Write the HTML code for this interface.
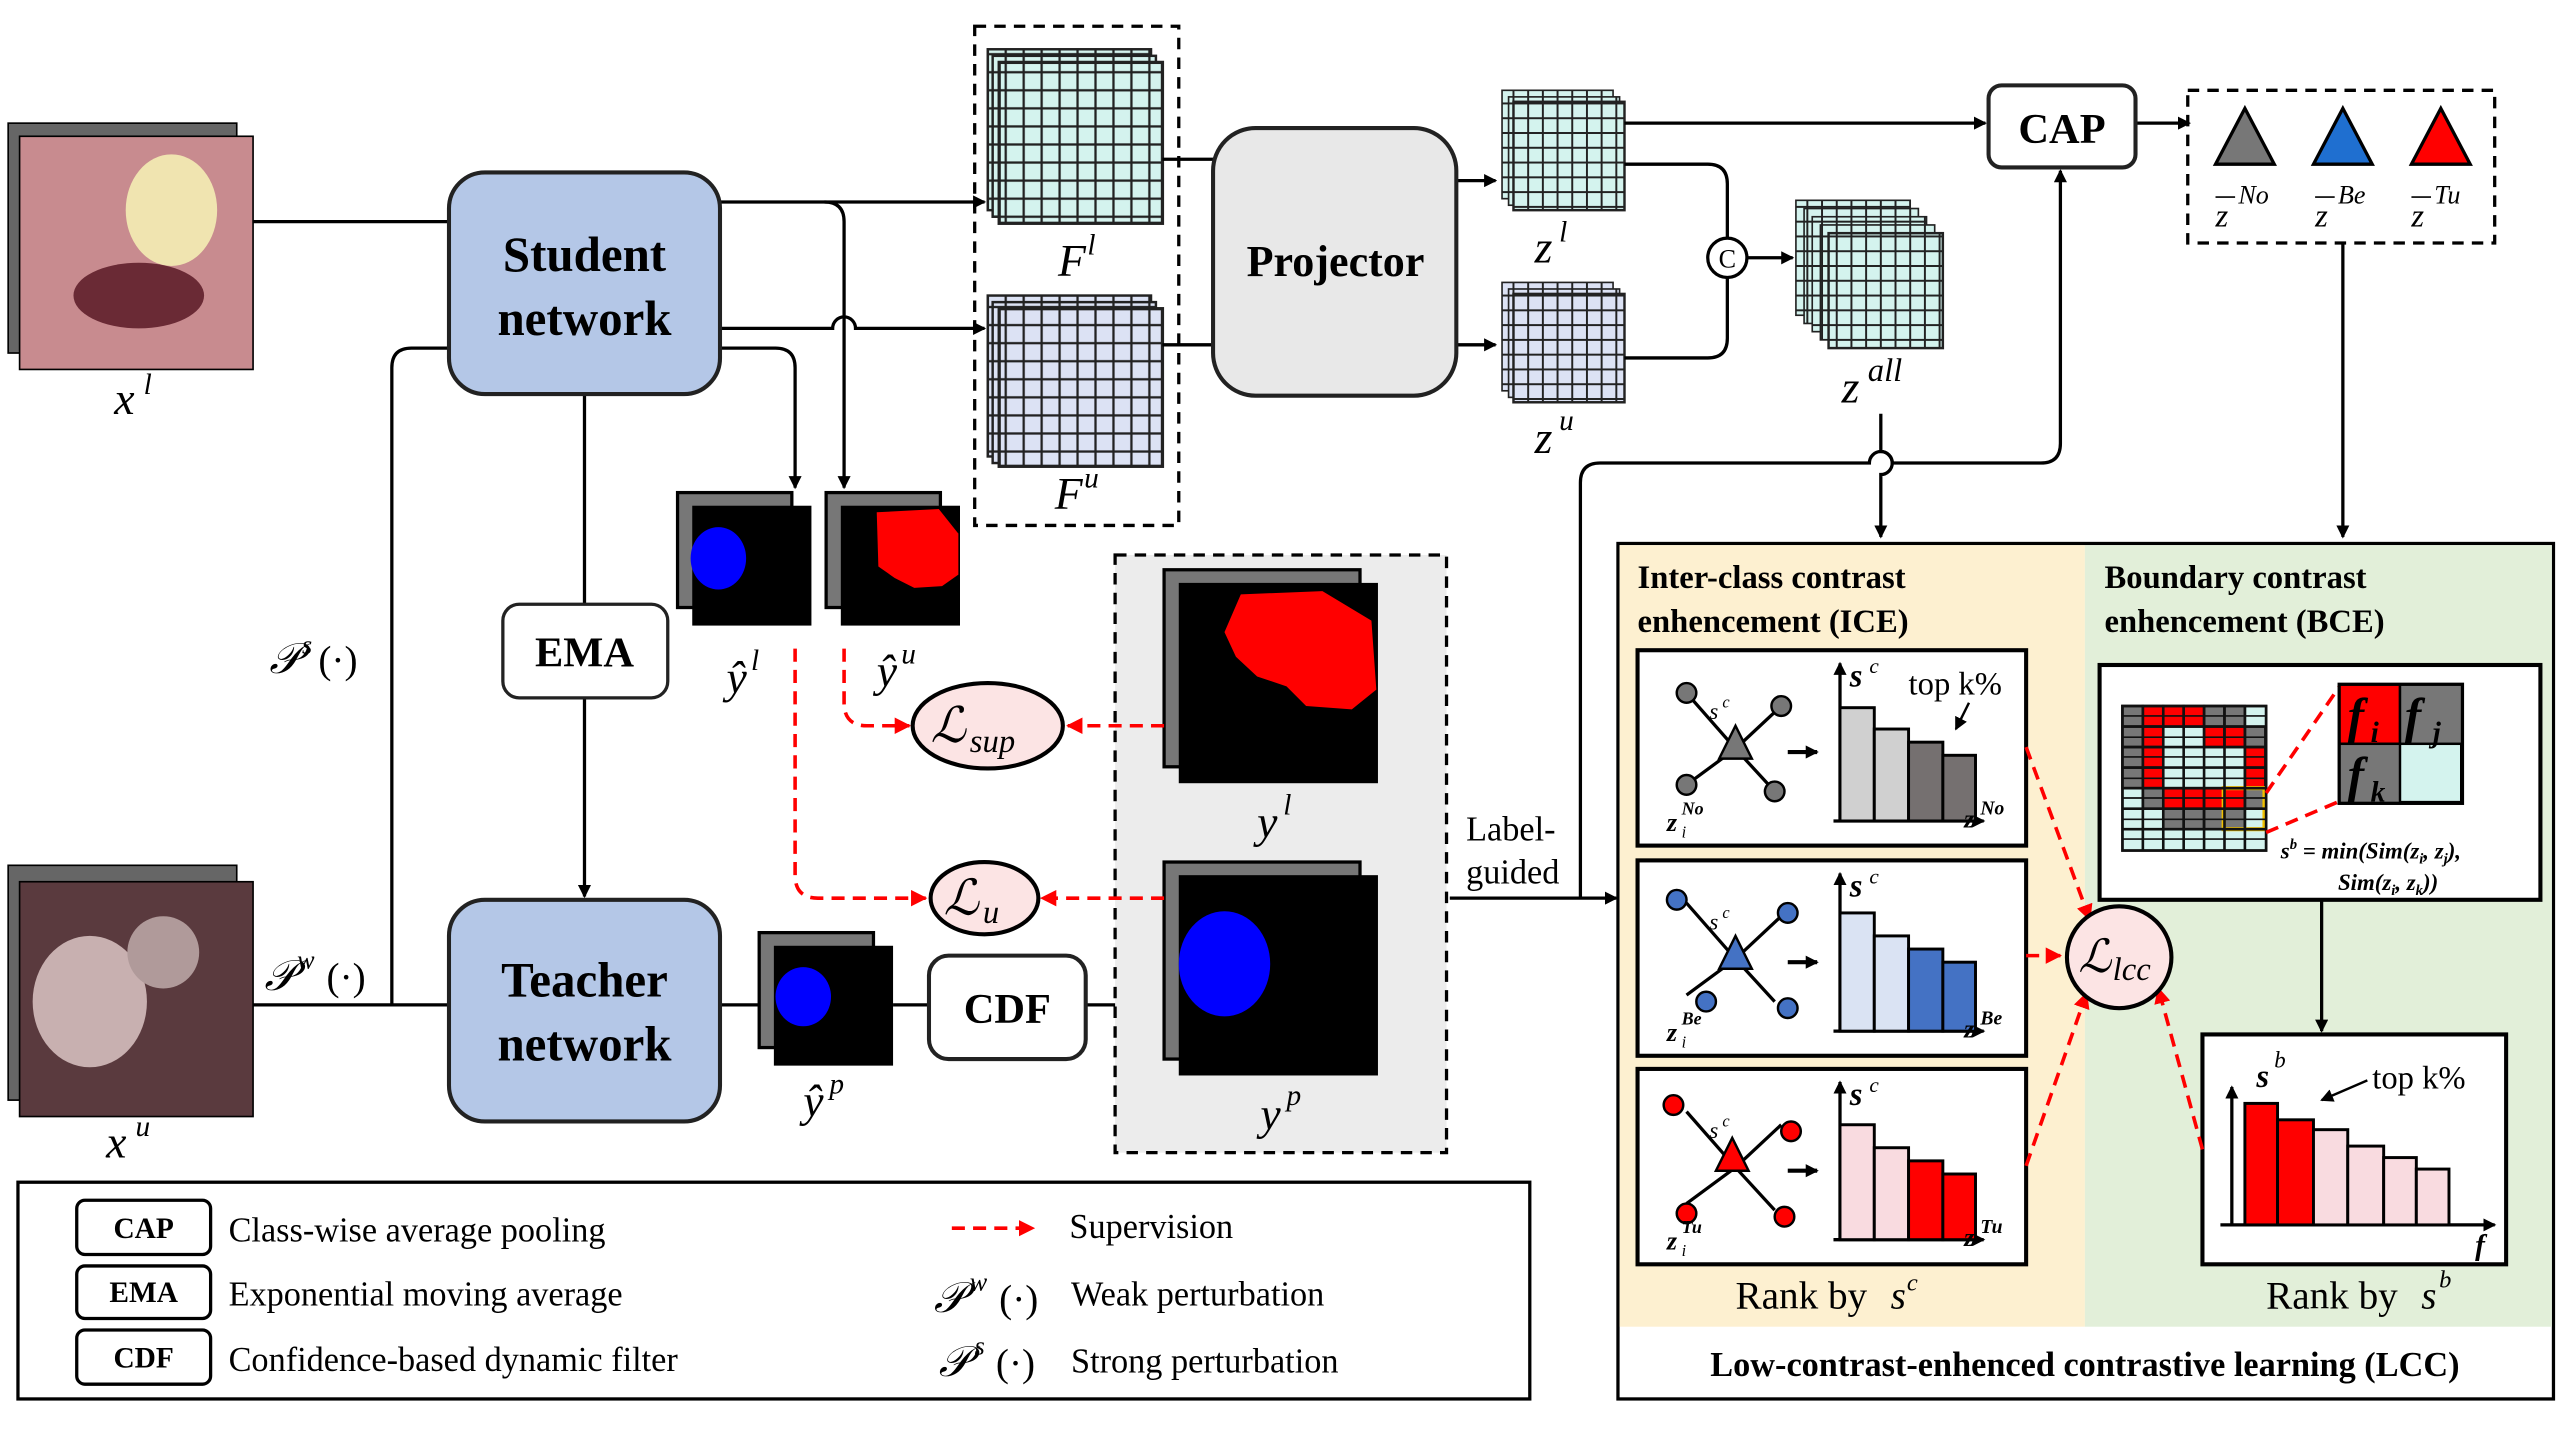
<!DOCTYPE html>
<html><head><meta charset="utf-8"><style>
html,body{margin:0;padding:0;background:#fff;}
svg{display:block;}
text{font-family:"Liberation Serif",serif;}
</style></head><body>
<svg width="2560" height="1440" viewBox="0 0 1568 877" preserveAspectRatio="none" xmlns="http://www.w3.org/2000/svg">
<defs>
<marker id="ar" markerWidth="8" markerHeight="8" refX="7" refY="4" orient="auto" markerUnits="userSpaceOnUse"><path d="M0,0 L8,4 L0,8 z" fill="#000"/></marker>
<marker id="rr" markerWidth="10" markerHeight="10" refX="9" refY="5" orient="auto" markerUnits="userSpaceOnUse"><path d="M0,0 L10,5 L0,10 z" fill="#f00"/></marker>
<pattern id="gc" width="11" height="11" patternUnits="userSpaceOnUse"><rect width="11" height="11" fill="#d4f3ee" stroke="#222" stroke-width="1.4"/></pattern>
<pattern id="gb" width="11" height="11" patternUnits="userSpaceOnUse"><rect width="11" height="11" fill="#dce2f4" stroke="#222" stroke-width="1.4"/></pattern>
<pattern id="zc" width="9" height="9" patternUnits="userSpaceOnUse"><rect width="9" height="9" fill="#d4f3ee" stroke="#222" stroke-width="1.2"/></pattern>
<pattern id="zb" width="9" height="9" patternUnits="userSpaceOnUse"><rect width="9" height="9" fill="#dce2f4" stroke="#222" stroke-width="1.2"/></pattern>
<g id="panel">
<rect x="0" y="0" width="238" height="119" fill="#fff" stroke="#000" stroke-width="2.5"/>
<line x1="30" y1="26" x2="60" y2="60" stroke="#000" stroke-width="2"/>
<line x1="88" y1="34" x2="60" y2="60" stroke="#000" stroke-width="2"/>
<line x1="30" y1="82" x2="60" y2="60" stroke="#000" stroke-width="2"/>
<line x1="84" y1="86" x2="60" y2="60" stroke="#000" stroke-width="2"/>
<text x="44" y="42" font-size="14" font-style="italic">s</text><text x="52" y="35" font-size="10" font-style="italic">c</text>
<line x1="92" y1="62" x2="110" y2="62" stroke="#000" stroke-width="2.5" marker-end="url(#ar)"/>
<line x1="124" y1="104" x2="124" y2="8" stroke="#000" stroke-width="2" marker-end="url(#ar)"/>
<line x1="120" y1="104" x2="212" y2="104" stroke="#000" stroke-width="2" marker-end="url(#ar)"/>
<text x="130" y="22" font-size="20" font-style="italic" font-weight="bold">s</text><text x="142" y="14" font-size="13" font-style="italic">c</text>
</g>
</defs>

<!-- input images -->
<rect x="5" y="75" width="140" height="140" fill="#666" stroke="#000"/>
<rect x="12" y="83" width="143" height="142" fill="#c88b8f" stroke="#000"/>
<ellipse cx="105" cy="128" rx="28" ry="34" fill="#f0e4b0"/>
<ellipse cx="85" cy="180" rx="40" ry="20" fill="#6a2a35"/>
<text x="70" y="252" font-size="28" font-style="italic">x</text><text x="88" y="240" font-size="18" font-style="italic">l</text>
<rect x="5" y="527" width="140" height="143" fill="#666" stroke="#000"/>
<rect x="12" y="537" width="143" height="143" fill="#5a3a3e" stroke="#000"/>
<ellipse cx="55" cy="610" rx="35" ry="40" fill="#c8b0b0"/>
<ellipse cx="100" cy="580" rx="22" ry="22" fill="#b09a9a"/>
<text x="65" y="705" font-size="28" font-style="italic">x</text><text x="83" y="692" font-size="18" font-style="italic">u</text>

<!-- connectors left -->
<g stroke="#000" stroke-width="2" fill="none">
<line x1="155" y1="135" x2="275" y2="135"/>
<line x1="155" y1="612" x2="275" y2="612"/>
<path d="M275,212 L252,212 Q240,212 240,224 L240,612"/>
<line x1="358" y1="240" x2="358" y2="368"/>
<line x1="358" y1="425" x2="358" y2="546" marker-end="url(#ar)"/>
<line x1="441" y1="123" x2="603" y2="123" marker-end="url(#ar)"/>
<path d="M441,200 L510,200 A7,7 0 0 1 524,200 L603,200" marker-end="url(#ar)"/>
<path d="M505,123 Q517,123 517,135 L517,297" marker-end="url(#ar)"/>
<path d="M441,212 L475,212 Q487,212 487,224 L487,297" marker-end="url(#ar)"/>
<line x1="441" y1="612" x2="465" y2="612"/>
<line x1="547" y1="612" x2="569" y2="612"/>
<line x1="665" y1="612" x2="711" y2="612" marker-end="url(#ar)"/>
</g>
<text x="165" y="410" font-size="26" font-style="italic">𝒫</text><text x="185" y="398" font-size="16" font-style="italic">s</text><text x="195" y="410" font-size="24">(·)</text>
<text x="162" y="603" font-size="26" font-style="italic">𝒫</text><text x="182" y="590" font-size="16" font-style="italic">w</text><text x="200" y="603" font-size="24">(·)</text>

<!-- network boxes -->
<rect x="275" y="105" width="166" height="135" rx="22" fill="#b4c7e7" stroke="#222" stroke-width="2.5"/>
<text x="358" y="165" font-size="30" font-weight="bold" text-anchor="middle">Student</text>
<text x="358" y="204" font-size="30" font-weight="bold" text-anchor="middle">network</text>
<rect x="275" y="548" width="166" height="135" rx="22" fill="#b4c7e7" stroke="#222" stroke-width="2.5"/>
<text x="358" y="607" font-size="30" font-weight="bold" text-anchor="middle">Teacher</text>
<text x="358" y="646" font-size="30" font-weight="bold" text-anchor="middle">network</text>
<rect x="308" y="368" width="101" height="57" rx="10" fill="#fff" stroke="#222" stroke-width="2"/>
<text x="358" y="406" font-size="26" font-weight="bold" text-anchor="middle">EMA</text>

<!-- F stacks -->
<rect x="597" y="16" width="125" height="304" fill="none" stroke="#000" stroke-width="2" stroke-dasharray="7,5"/>
<rect x="605" y="30" width="100" height="98" fill="url(#gc)" stroke="#222" stroke-width="1.5"/>
<rect x="608" y="34" width="100" height="98" fill="url(#gc)" stroke="#222" stroke-width="1.5"/>
<rect x="612" y="38" width="100" height="98" fill="url(#gc)" stroke="#222" stroke-width="2"/>
<text x="648" y="168" font-size="28" font-style="italic">F</text><text x="666" y="155" font-size="18" font-style="italic">l</text>
<rect x="605" y="180" width="100" height="98" fill="url(#gb)" stroke="#222" stroke-width="1.5"/>
<rect x="608" y="184" width="100" height="98" fill="url(#gb)" stroke="#222" stroke-width="1.5"/>
<rect x="612" y="188" width="100" height="96" fill="url(#gb)" stroke="#222" stroke-width="2"/>
<text x="646" y="310" font-size="28" font-style="italic">F</text><text x="664" y="297" font-size="18" font-style="italic">u</text>

<!-- projector -->
<g stroke="#000" stroke-width="2" fill="none">
<line x1="712" y1="97" x2="743" y2="97"/>
<line x1="712" y1="210" x2="743" y2="210"/>
<line x1="892" y1="110" x2="916" y2="110" marker-end="url(#ar)"/>
<line x1="892" y1="210" x2="916" y2="210" marker-end="url(#ar)"/>
</g>
<rect x="743" y="78" width="149" height="163" rx="26" fill="#e8e8e8" stroke="#222" stroke-width="2.5"/>
<text x="818" y="168" font-size="27" font-weight="bold" text-anchor="middle">Projector</text>

<!-- z grids -->
<rect x="920" y="55" width="68" height="66" fill="url(#zc)" stroke="#222"/>
<rect x="924" y="59" width="68" height="66" fill="url(#zc)" stroke="#222"/>
<rect x="927" y="62" width="68" height="66" fill="url(#zc)" stroke="#222" stroke-width="1.5"/>
<text x="940" y="160" font-size="28" font-style="italic">z</text><text x="955" y="147" font-size="18" font-style="italic">l</text>
<rect x="920" y="172" width="68" height="66" fill="url(#zb)" stroke="#222"/>
<rect x="924" y="176" width="68" height="66" fill="url(#zb)" stroke="#222"/>
<rect x="927" y="179" width="68" height="66" fill="url(#zb)" stroke="#222" stroke-width="1.5"/>
<text x="940" y="276" font-size="28" font-style="italic">z</text><text x="955" y="262" font-size="18" font-style="italic">u</text>
<g stroke="#000" stroke-width="2" fill="none">
<path d="M995,100 L1046,100 Q1058,100 1058,112 L1058,145"/>
<path d="M995,218 L1046,218 Q1058,218 1058,206 L1058,169"/>
<line x1="1070" y1="157" x2="1098" y2="157" marker-end="url(#ar)"/>
<line x1="995" y1="75" x2="1216" y2="75" marker-end="url(#ar)"/>
<line x1="1308" y1="75" x2="1341" y2="75" marker-end="url(#ar)"/>
<line x1="1435" y1="148" x2="1435" y2="327" marker-end="url(#ar)"/>
<path d="M1152,252 L1152,275 A7,7 0 0 1 1152,289 L1152,327" marker-end="url(#ar)"/>
<path d="M888,547 L990,547" marker-end="url(#ar)"/>
<path d="M968,547 L968,294 Q968,282 980,282 L1145,282 A7,7 0 0 1 1159,282 L1250,282 Q1262,282 1262,270 L1262,104" marker-end="url(#ar)"/>
</g>
<circle cx="1058" cy="157" r="12" fill="#fff" stroke="#000" stroke-width="2"/>
<text x="1058" y="163" font-size="16" text-anchor="middle" font-family="Liberation Sans">C</text>
<rect x="1100" y="122" width="70" height="70" fill="url(#zc)" stroke="#222"/>
<rect x="1105" y="127" width="70" height="70" fill="url(#zc)" stroke="#222"/>
<rect x="1110" y="132" width="70" height="70" fill="url(#zc)" stroke="#222"/>
<rect x="1115" y="137" width="70" height="70" fill="url(#zc)" stroke="#222"/>
<rect x="1120" y="142" width="70" height="70" fill="url(#zc)" stroke="#222" stroke-width="1.5"/>
<text x="1128" y="245" font-size="28" font-style="italic">z</text><text x="1144" y="232" font-size="20" font-style="italic">all</text>
<text x="898" y="512" font-size="21">Label-</text>
<text x="898" y="538" font-size="21">guided</text>

<!-- CAP -->
<rect x="1218" y="52" width="90" height="50" rx="8" fill="#fff" stroke="#222" stroke-width="2.5"/>
<text x="1263" y="87" font-size="26" font-weight="bold" text-anchor="middle">CAP</text>
<rect x="1340" y="55" width="188" height="93" fill="none" stroke="#000" stroke-width="2" stroke-dasharray="7,5"/>
<polygon points="1375,66 1393,100 1357,100" fill="#777" stroke="#000" stroke-width="2"/>
<polygon points="1435,66 1453,100 1417,100" fill="#1f6fd0" stroke="#000" stroke-width="2"/>
<polygon points="1495,66 1513,100 1477,100" fill="#f00" stroke="#000" stroke-width="2"/>
<text x="1357" y="138" font-size="20" font-style="italic">z</text><text x="1371" y="124" font-size="16" font-style="italic">No</text><line x1="1357" y1="120" x2="1369" y2="120" stroke="#000"/>
<text x="1418" y="138" font-size="20" font-style="italic">z</text><text x="1432" y="124" font-size="16" font-style="italic">Be</text><line x1="1418" y1="120" x2="1430" y2="120" stroke="#000"/>
<text x="1477" y="138" font-size="20" font-style="italic">z</text><text x="1491" y="124" font-size="16" font-style="italic">Tu</text><line x1="1477" y1="120" x2="1489" y2="120" stroke="#000"/>

<!-- masks -->
<rect x="415" y="300" width="70" height="70" fill="#777" stroke="#000" stroke-width="2"/>
<rect x="424" y="308" width="73" height="73" fill="#000"/>
<ellipse cx="440" cy="340" rx="17" ry="19" fill="#00f"/>
<rect x="506" y="300" width="70" height="70" fill="#777" stroke="#000" stroke-width="2"/>
<rect x="515" y="308" width="73" height="73" fill="#000"/>
<path d="M537,312 L575,310 L587,325 L587,350 L577,357 L560,358 L548,352 L538,345 Z" fill="#f00"/>
<text x="445" y="422" font-size="28" font-style="italic">ŷ</text><text x="460" y="408" font-size="18" font-style="italic">l</text>
<text x="537" y="418" font-size="28" font-style="italic">ŷ</text><text x="552" y="404" font-size="18" font-style="italic">u</text>
<rect x="465" y="568" width="70" height="70" fill="#777" stroke="#000" stroke-width="2"/>
<rect x="474" y="576" width="73" height="73" fill="#000"/>
<ellipse cx="492" cy="607" rx="17" ry="18" fill="#00f"/>
<text x="492" y="680" font-size="28" font-style="italic">ŷ</text><text x="508" y="666" font-size="18" font-style="italic">p</text>
<rect x="569" y="582" width="96" height="63" rx="12" fill="#fff" stroke="#222" stroke-width="2.5"/>
<text x="617" y="623" font-size="26" font-weight="bold" text-anchor="middle">CDF</text>

<rect x="683" y="338" width="203" height="364" fill="#ececec" stroke="#000" stroke-width="2" stroke-dasharray="7,5"/>
<rect x="713" y="347" width="120" height="120" fill="#777" stroke="#000" stroke-width="2"/>
<rect x="722" y="355" width="122" height="122" fill="#000"/>
<path d="M760,362 L810,360 L840,378 L843,420 L828,432 L800,430 L788,418 L770,412 L757,400 L750,385 Z" fill="#f00"/>
<text x="770" y="510" font-size="28" font-style="italic">y</text><text x="786" y="496" font-size="18" font-style="italic">l</text>
<rect x="713" y="525" width="120" height="120" fill="#777" stroke="#000" stroke-width="2"/>
<rect x="722" y="533" width="122" height="122" fill="#000"/>
<ellipse cx="750" cy="587" rx="28" ry="32" fill="#00f"/>
<text x="772" y="688" font-size="28" font-style="italic">y</text><text x="788" y="673" font-size="18" font-style="italic">p</text>

<!-- losses -->
<g stroke="#f00" stroke-width="2.2" fill="none" stroke-dasharray="8,5">
<path d="M517,395 L517,428 Q517,442 531,442 L557,442" marker-end="url(#rr)"/>
<path d="M713,442 L654,442" marker-end="url(#rr)"/>
<path d="M487,395 L487,533 Q487,547 501,547 L567,547" marker-end="url(#rr)"/>
<path d="M713,547 L638,547" marker-end="url(#rr)"/>
</g>
<ellipse cx="605" cy="442" rx="46" ry="26" fill="#fce4e4" stroke="#000" stroke-width="2.5"/>
<text x="570" y="452" font-size="30" font-style="italic">ℒ</text><text x="594" y="458" font-size="20" font-style="italic">sup</text>
<ellipse cx="603" cy="547" rx="33" ry="22" fill="#fce4e4" stroke="#000" stroke-width="2.5"/>
<text x="578" y="557" font-size="30" font-style="italic">ℒ</text><text x="602" y="562" font-size="20" font-style="italic">u</text>

<!-- legend -->
<rect x="11" y="720" width="926" height="132" fill="#fff" stroke="#000" stroke-width="2"/>
<rect x="47" y="731" width="82" height="33" rx="5" fill="#fff" stroke="#000" stroke-width="2"/>
<text x="88" y="754" font-size="18" font-weight="bold" text-anchor="middle">CAP</text>
<text x="140" y="756" font-size="21">Class-wise average pooling</text>
<rect x="47" y="771" width="82" height="32" rx="5" fill="#fff" stroke="#000" stroke-width="2"/>
<text x="88" y="793" font-size="18" font-weight="bold" text-anchor="middle">EMA</text>
<text x="140" y="795" font-size="21">Exponential moving average</text>
<rect x="47" y="810" width="82" height="33" rx="5" fill="#fff" stroke="#000" stroke-width="2"/>
<text x="88" y="833" font-size="18" font-weight="bold" text-anchor="middle">CDF</text>
<text x="140" y="835" font-size="21">Confidence-based dynamic filter</text>
<line x1="583" y1="748" x2="633" y2="748" stroke="#f00" stroke-width="2.2" stroke-dasharray="8,5" marker-end="url(#rr)"/>
<text x="655" y="754" font-size="21">Supervision</text>
<text x="572" y="799" font-size="26" font-style="italic">𝒫</text><text x="594" y="786" font-size="16" font-style="italic">w</text><text x="612" y="799" font-size="24">(·)</text>
<text x="656" y="795" font-size="21">Weak perturbation</text>
<text x="575" y="838" font-size="26" font-style="italic">𝒫</text><text x="597" y="825" font-size="16" font-style="italic">s</text><text x="610" y="838" font-size="24">(·)</text>
<text x="656" y="836" font-size="21">Strong perturbation</text>

<!-- LCC -->
<rect x="991" y="331" width="573" height="521" fill="#fff" stroke="#000" stroke-width="2"/>
<rect x="992" y="332" width="285" height="476" fill="#fdf0d0"/>
<rect x="1277" y="332" width="286" height="476" fill="#e2efd9"/>
<text x="1277" y="838" font-size="21" font-weight="bold" text-anchor="middle">Low-contrast-enhenced contrastive learning (LCC)</text>
<text x="1003" y="358" font-size="20" font-weight="bold">Inter-class contrast</text>
<text x="1003" y="385" font-size="20" font-weight="bold">enhencement (ICE)</text>
<text x="1289" y="358" font-size="20" font-weight="bold">Boundary contrast</text>
<text x="1289" y="385" font-size="20" font-weight="bold">enhencement (BCE)</text>

<!-- panel 1 -->
<g transform="translate(1003,396)">
<use href="#panel"/>
<polygon points="60,46 70,66 50,66" fill="#777" stroke="#000" stroke-width="1.5"/>
<g fill="#777" stroke="#000" stroke-width="1.5"><circle cx="30" cy="26" r="6"/><circle cx="88" cy="34" r="6"/><circle cx="30" cy="82" r="6"/><circle cx="84" cy="86" r="6"/></g>
<g stroke="#000" stroke-width="1.8"><rect x="124" y="35" width="21" height="69" fill="#d0d0d0"/><rect x="145" y="48" width="21" height="56" fill="#d0d0d0"/><rect x="166" y="56" width="21" height="48" fill="#757070"/><rect x="187" y="64" width="20" height="40" fill="#757070"/></g>
<text x="166" y="27" font-size="20">top k%</text>
<line x1="203" y1="32" x2="195" y2="48" stroke="#000" stroke-width="1.5" marker-end="url(#ar)"/>
<text x="18" y="110" font-size="16" font-weight="bold" font-style="italic">z</text><text x="27" y="100" font-size="11" font-weight="bold" font-style="italic">No</text><text x="27" y="114" font-size="10" font-style="italic">i</text>
<text x="200" y="108" font-size="16" font-weight="bold" font-style="italic">z</text><text x="210" y="100" font-size="12" font-weight="bold" font-style="italic">No</text>
</g>
<!-- panel 2 -->
<g transform="translate(1003,524)">
<use href="#panel"/>
<polygon points="60,46 70,66 50,66" fill="#4472c4" stroke="#000" stroke-width="1.5"/>
<g fill="#4472c4" stroke="#000" stroke-width="1.5"><circle cx="24" cy="24" r="6"/><circle cx="92" cy="32" r="6"/><circle cx="42" cy="86" r="6"/><circle cx="92" cy="90" r="6"/></g>
<g stroke="#000" stroke-width="1.8"><rect x="124" y="32" width="21" height="72" fill="#dae3f3"/><rect x="145" y="46" width="21" height="58" fill="#dae3f3"/><rect x="166" y="54" width="21" height="50" fill="#4472c4"/><rect x="187" y="62" width="20" height="42" fill="#4472c4"/></g>
<text x="18" y="110" font-size="16" font-weight="bold" font-style="italic">z</text><text x="27" y="100" font-size="11" font-weight="bold" font-style="italic">Be</text><text x="27" y="114" font-size="10" font-style="italic">i</text>
<text x="200" y="108" font-size="16" font-weight="bold" font-style="italic">z</text><text x="210" y="100" font-size="12" font-weight="bold" font-style="italic">Be</text>
</g>
<!-- panel 3 -->
<g transform="translate(1003,651)">
<use href="#panel"/>
<polygon points="58,42 68,62 48,62" fill="#f00" stroke="#000" stroke-width="1.5"/>
<g fill="#f00" stroke="#000" stroke-width="1.5"><circle cx="22" cy="22" r="6"/><circle cx="94" cy="38" r="6"/><circle cx="30" cy="88" r="6"/><circle cx="90" cy="90" r="6"/></g>
<g stroke="#000" stroke-width="1.8"><rect x="124" y="34" width="21" height="70" fill="#f9dbe0"/><rect x="145" y="48" width="21" height="56" fill="#f9dbe0"/><rect x="166" y="56" width="21" height="48" fill="#f00"/><rect x="187" y="64" width="20" height="40" fill="#f00"/></g>
<text x="18" y="110" font-size="16" font-weight="bold" font-style="italic">z</text><text x="27" y="100" font-size="11" font-weight="bold" font-style="italic">Tu</text><text x="27" y="114" font-size="10" font-style="italic">i</text>
<text x="200" y="108" font-size="16" font-weight="bold" font-style="italic">z</text><text x="210" y="100" font-size="12" font-weight="bold" font-style="italic">Tu</text>
</g>
<text x="1063" y="797" font-size="24">Rank by </text><text x="1158" y="797" font-size="24" font-style="italic">s</text><text x="1168" y="786" font-size="15" font-style="italic">c</text>

<!-- BCE -->
<rect x="1286" y="405" width="270" height="143" fill="#fff" stroke="#000" stroke-width="2.5"/>
<g stroke="#111" stroke-width="1.5">
<!-- 7x7 grid, cell 12.5 -->
<rect x="1300" y="430" width="88" height="88" fill="#d4f3ee"/>
<g fill="#777">
<rect x="1300" y="430" width="12.5" height="12.5"/><rect x="1350" y="430" width="12.5" height="12.5"/><rect x="1362.5" y="430" width="12.5" height="12.5"/>
<rect x="1300" y="442.5" width="12.5" height="12.5"/><rect x="1375" y="442.5" width="12.5" height="12.5"/>
<rect x="1300" y="455" width="12.5" height="12.5"/><rect x="1300" y="467.5" width="12.5" height="12.5"/>
<rect x="1312.5" y="480" width="12.5" height="12.5"/><rect x="1375" y="480" width="12.5" height="12.5"/>
<rect x="1325" y="492.5" width="12.5" height="12.5"/><rect x="1337.5" y="492.5" width="12.5" height="12.5"/><rect x="1350" y="492.5" width="12.5" height="12.5"/><rect x="1362.5" y="492.5" width="12.5" height="12.5"/>
</g>
<g fill="#f00">
<rect x="1312.5" y="430" width="12.5" height="12.5"/><rect x="1325" y="430" width="12.5" height="12.5"/><rect x="1337.5" y="430" width="12.5" height="12.5"/>
<rect x="1312.5" y="442.5" width="12.5" height="12.5"/><rect x="1350" y="442.5" width="12.5" height="12.5"/><rect x="1362.5" y="442.5" width="12.5" height="12.5"/>
<rect x="1312.5" y="455" width="12.5" height="12.5"/><rect x="1375" y="455" width="12.5" height="12.5"/>
<rect x="1312.5" y="467.5" width="12.5" height="12.5"/><rect x="1375" y="467.5" width="12.5" height="12.5"/>
<rect x="1325" y="480" width="12.5" height="12.5"/><rect x="1337.5" y="480" width="12.5" height="12.5"/><rect x="1350" y="480" width="12.5" height="12.5"/><rect x="1362.5" y="480" width="12.5" height="12.5"/>
</g>
</g>
<rect x="1362" y="480" width="25" height="25" fill="none" stroke="#f0c000" stroke-width="2.5"/>
<g stroke="#111" stroke-width="1"><path d="M1300,436h88M1300,449h88M1300,461h88M1300,474h88M1300,486h88M1300,499h88M1300,511h88"/></g>
<g stroke="#111" stroke-width="1.6" fill="none">
<rect x="1300" y="430" width="88" height="88"/>
<path d="M1312.5,430v88M1325,430v88M1337.5,430v88M1350,430v88M1362.5,430v88M1375,430v88M1300,442.5h88M1300,455h88M1300,467.5h88M1300,480h88M1300,492.5h88M1300,505h88"/>
</g>
<g stroke="#f00" stroke-width="2.2" stroke-dasharray="8,5" fill="none">
<line x1="1388" y1="483" x2="1433" y2="418"/>
<line x1="1388" y1="507" x2="1433" y2="488"/>
</g>
<rect x="1433" y="417" width="75" height="72" fill="#d4f3ee" stroke="#000" stroke-width="2.5"/>
<rect x="1433" y="417" width="37" height="36" fill="#f00" stroke="#000" stroke-width="1.5"/>
<rect x="1470" y="417" width="38" height="36" fill="#777" stroke="#000" stroke-width="1.5"/>
<rect x="1433" y="453" width="37" height="36" fill="#777" stroke="#000" stroke-width="1.5"/>
<text x="1438" y="446" font-size="30" font-style="italic" font-weight="bold">f</text><text x="1452" y="452" font-size="18" font-style="italic" font-weight="bold">i</text>
<text x="1473" y="446" font-size="30" font-style="italic" font-weight="bold">f</text><text x="1490" y="452" font-size="18" font-style="italic" font-weight="bold">j</text>
<text x="1438" y="482" font-size="30" font-style="italic" font-weight="bold">f</text><text x="1452" y="488" font-size="18" font-style="italic" font-weight="bold">k</text>
<text x="1397" y="523" font-size="14" font-style="italic" font-weight="bold">s<tspan dy="-6" font-size="9">b</tspan><tspan dy="6"> = min(Sim(z</tspan><tspan dy="3" font-size="9">i</tspan><tspan dy="-3">, z</tspan><tspan dy="3" font-size="9">j</tspan><tspan dy="-3">),</tspan></text>
<text x="1432" y="542" font-size="14" font-style="italic" font-weight="bold">Sim(z<tspan dy="3" font-size="9">i</tspan><tspan dy="-3">, z</tspan><tspan dy="3" font-size="9">k</tspan><tspan dy="-3">))</tspan></text>
<line x1="1422" y1="548" x2="1422" y2="628" stroke="#000" stroke-width="2" marker-end="url(#ar)"/>
<rect x="1349" y="630" width="186" height="140" fill="#fff" stroke="#000" stroke-width="2.5"/>
<line x1="1367" y1="746" x2="1367" y2="662" stroke="#000" stroke-width="2" marker-end="url(#ar)"/>
<line x1="1360" y1="746" x2="1528" y2="746" stroke="#000" stroke-width="2" marker-end="url(#ar)"/>
<g stroke="#000" stroke-width="1.8">
<rect x="1375" y="672" width="20" height="74" fill="#f00"/><rect x="1395" y="682" width="22" height="64" fill="#f00"/>
<rect x="1417" y="688" width="21" height="58" fill="#f9dbe0"/><rect x="1438" y="698" width="22" height="48" fill="#f9dbe0"/><rect x="1460" y="705" width="20" height="41" fill="#f9dbe0"/><rect x="1480" y="712" width="20" height="34" fill="#f9dbe0"/>
</g>
<text x="1382" y="662" font-size="20" font-style="italic" font-weight="bold">s</text><text x="1393" y="650" font-size="14" font-style="italic">b</text>
<text x="1453" y="663" font-size="20">top k%</text>
<line x1="1450" y1="658" x2="1422" y2="670" stroke="#000" stroke-width="1.5" marker-end="url(#ar)"/>
<text x="1516" y="764" font-size="18" font-style="italic" font-weight="bold">f</text>
<text x="1388" y="797" font-size="24">Rank by </text><text x="1483" y="797" font-size="24" font-style="italic">s</text><text x="1494" y="784" font-size="15" font-style="italic">b</text>

<g stroke="#f00" stroke-width="2.2" stroke-dasharray="8,5" fill="none">
<line x1="1241" y1="455" x2="1280" y2="560" marker-end="url(#rr)"/>
<line x1="1241" y1="582" x2="1262" y2="582" marker-end="url(#rr)"/>
<line x1="1241" y1="710" x2="1278" y2="605" marker-end="url(#rr)"/>
<line x1="1349" y1="700" x2="1322" y2="602" marker-end="url(#rr)"/>
</g>
<ellipse cx="1298" cy="583" rx="32" ry="31" fill="#fce4e4" stroke="#000" stroke-width="2.5"/>
<text x="1273" y="592" font-size="28" font-style="italic">ℒ</text><text x="1294" y="597" font-size="20" font-style="italic">lcc</text>
</svg>
</body></html>
